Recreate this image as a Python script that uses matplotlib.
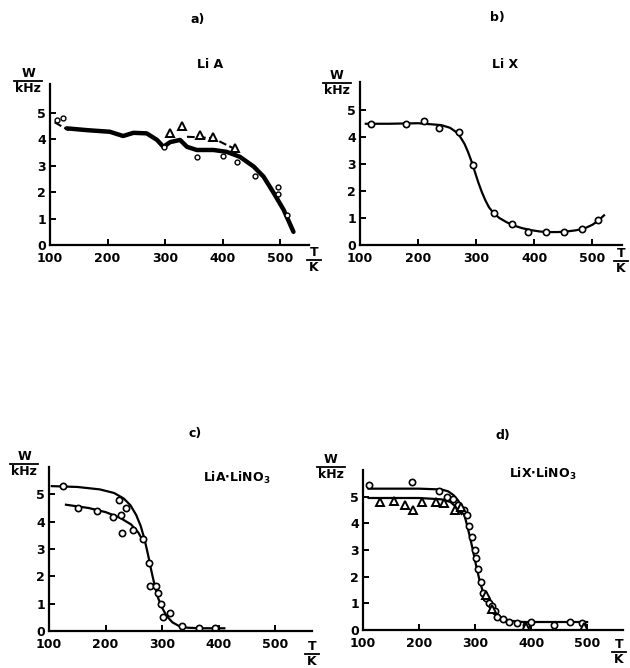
# W(T) of Li in zeolites A and X, four panels
import numpy as np
import matplotlib.pyplot as plt

plt.rcParams['font.family'] = ['DejaVu Sans']
plt.rcParams['font.weight'] = 'bold'

# a) Li A
a_curve_T = [129, 165, 204, 227, 245, 268, 286, 297, 309, 326, 338, 355, 384, 407, 430, 454, 471, 489, 506, 523]
a_curve_W = [4.42, 4.35, 4.29, 4.13, 4.25, 4.23, 3.98, 3.72, 3.9, 3.98, 3.72, 3.6, 3.6, 3.53, 3.34, 2.97, 2.59, 1.96, 1.33, 0.5]
a_start_T = [108, 120, 133]
a_start_W = [4.65, 4.5, 4.35]
a_circ_T = [112, 122, 298, 355, 401, 425, 456, 497, 497, 512]
a_circ_W = [4.75, 4.8, 3.7, 3.32, 3.37, 3.15, 2.6, 2.2, 1.95, 1.14]
a_tri_T = [309, 329, 361, 384, 422]
a_tri_W = [4.23, 4.5, 4.17, 4.1, 3.66]
a_tri_line_T = [338, 361, 384, 407, 425]
a_tri_line_W = [4.1, 4.08, 4.04, 3.79, 3.6]

# b) Li X
b_T = [119, 180, 211, 236, 270, 295, 331, 361, 390, 421, 451, 482, 509]
b_W = [4.5, 4.5, 4.6, 4.35, 4.2, 2.96, 1.18, 0.78, 0.5, 0.48, 0.5, 0.58, 0.93]
b_curve_T = [110, 150, 200, 240, 255, 265, 273, 280, 286, 292, 298, 304, 310, 316, 322, 330,
             340, 352, 365, 380, 395, 410, 425, 440, 455, 470, 485, 500, 510, 520]
b_curve_W = [4.5, 4.5, 4.52, 4.45, 4.35, 4.2, 4.0, 3.75, 3.45, 3.1, 2.7, 2.3, 1.95, 1.65, 1.4, 1.18,
             1.0, 0.85, 0.72, 0.62, 0.55, 0.5, 0.48, 0.48, 0.5, 0.54, 0.6, 0.75, 0.9, 1.1]

# c) LiA.LiNO3
c_T = [124, 224, 237, 266, 276, 278, 290, 292, 298, 301, 314, 335, 365, 393]
c_W = [5.3, 4.8, 4.5, 3.35, 2.5, 1.65, 1.65, 1.4, 0.97, 0.5, 0.65, 0.2, 0.12, 0.1]
c2_T = [152, 184, 214, 227, 229, 249]
c2_W = [4.5, 4.4, 4.17, 4.23, 3.6, 3.7]
c_up_T = [105, 150, 190, 215, 232, 244, 254, 262, 269, 275, 281, 287, 293, 300, 308, 318, 330, 345, 370, 410]
c_up_W = [5.3, 5.27, 5.18, 5.05, 4.85, 4.6, 4.25, 3.85, 3.35, 2.8, 2.2, 1.65, 1.2, 0.85, 0.55, 0.32, 0.18, 0.12, 0.1, 0.1]
c_lo_T = [130, 170, 200, 225, 245, 258, 266]
c_lo_W = [4.62, 4.5, 4.35, 4.15, 3.9, 3.6, 3.3]

# d) LiX.LiNO3
d_T = [111, 187, 235, 250, 260, 270, 280, 285, 290, 295, 300, 302, 305, 310, 315, 320, 325, 330, 335, 340,
       350, 360, 375, 390, 400, 440, 470, 490]
d_W = [5.45, 5.55, 5.2, 5.0, 4.9, 4.7, 4.5, 4.3, 3.9, 3.5, 3.0, 2.7, 2.3, 1.8, 1.4, 1.2, 1.0, 0.9, 0.7, 0.5,
       0.4, 0.3, 0.25, 0.2, 0.3, 0.2, 0.3, 0.25]
d2_T = [130, 155, 175, 190, 205, 230, 245, 265, 275, 320, 330, 390, 495]
d2_W = [4.8, 4.85, 4.7, 4.5, 4.8, 4.8, 4.75, 4.5, 4.6, 1.3, 0.8, 0.1, 0.1]
d_up_T = [110, 200, 240, 252, 262, 270, 277, 283, 289, 295, 301, 307, 313, 320, 328, 338, 350, 365, 385, 420, 500]
d_up_W = [5.3, 5.3, 5.27, 5.2, 5.05, 4.85, 4.55, 4.15, 3.65, 3.1, 2.5, 1.95, 1.5, 1.1, 0.8, 0.55, 0.42, 0.34, 0.3, 0.3, 0.3]
d_lo_T = [110, 200, 240, 256, 267, 276]
d_lo_W = [4.95, 4.95, 4.9, 4.8, 4.6, 4.35]

xticks = [100, 200, 300, 400, 500]
yticks = [0, 1, 2, 3, 4, 5]

fig = plt.figure(figsize=(6.3, 6.68), dpi=100)


def px_ax(x0, y0, x1, y1):
    # axes from pixel box (left, bottom-of-axis y, right, top y)
    return fig.add_axes([x0 / 630, 1 - y0 / 668, (x1 - x0) / 630, (y0 - y1) / 668])


def style(ax, xmax, ymax):
    ax.set_xlim(100, xmax)
    ax.set_ylim(0, ymax)
    ax.spines['top'].set_visible(False)
    ax.spines['right'].set_visible(False)
    ax.spines['left'].set_linewidth(1.6)
    ax.spines['bottom'].set_linewidth(1.6)
    ax.set_xticks(xticks)
    ax.set_yticks(yticks)
    ax.tick_params(direction='in', length=4, width=1.4, labelsize=9)
    ax.tick_params(axis='x', pad=5)
    ax.tick_params(axis='y', pad=3)
    for lab in ax.get_xticklabels() + ax.get_yticklabels():
        lab.set_fontweight('bold')


def ftext(x, y, s, **kw):
    fig.text(x / 630, 1 - y / 668, s, fontsize=9, fontweight='bold', **kw)


def frac(x, y, top, bot, w=14):
    ftext(x, y, top, ha='center', va='bottom')
    ftext(x, y + 2, bot, ha='center', va='top')
    fig.add_artist(plt.Line2D([(x - w) / 630, (x + w) / 630], [1 - (y + 1) / 668] * 2,
                              color='black', lw=1.3))


circ = dict(marker='o', ms=4.5, mfc='white', mec='black', mew=1.2, ls='none')
tri = dict(marker='^', ms=6, mfc='white', mec='black', mew=1.4, ls='none')

# a)
ax = px_ax(50, 245, 309, 84)
style(ax, 550, 6.1)
ax.plot(a_curve_T, a_curve_W, color='black', lw=3.2, solid_capstyle='round', solid_joinstyle='round')
ax.plot(a_start_T, a_start_W, color='black', lw=1.5, ls='--')
ax.plot(a_tri_line_T, a_tri_line_W, color='black', lw=1.5, ls='--')
ax.plot(a_circ_T, a_circ_W, marker='o', ms=3.5, mfc='white', mec='black', mew=1.0, ls='none')
ax.plot(a_tri_T, a_tri_W, **tri)

# b)
ax = px_ax(360, 245, 622, 82)
style(ax, 551, 6.05)
ax.plot(b_curve_T, b_curve_W, color='black', lw=1.6)
ax.plot(b_T, b_W, **circ)

# c)
ax = px_ax(49, 631, 312, 467)
style(ax, 565, 6.0)
ax.plot(c_up_T, c_up_W, color='black', lw=1.6)
ax.plot(c_lo_T, c_lo_W, color='black', lw=1.6)
ax.plot(c_T, c_W, **circ)
ax.plot(c2_T, c2_W, **circ)

# d)
ax = px_ax(363, 630, 623, 470)
style(ax, 564, 6.0)
ax.plot(d_up_T, d_up_W, color='black', lw=1.6)
ax.plot(d_lo_T, d_lo_W, color='black', lw=1.6)
ax.plot(d_T, d_W, **circ)
ax.plot(d2_T, d2_W, **tri)

# sample names
ftext(210, 65, 'Li A', ha='center', va='center')
ftext(505, 65, 'Li X', ha='center', va='center')
ftext(237, 478, r'LiA$\cdot$LiNO$_3$', ha='center', va='center')
ftext(543, 474, r'LiX$\cdot$LiNO$_3$', ha='center', va='center')

# panel letters
for x, y, s in [(198, 20, 'a)'), (497, 18, 'b)'), (195, 433, 'c)'), (503, 435, 'd)')]:
    ftext(x, y, s, ha='center', va='center')

# axis quantity labels
frac(28, 80, 'W', 'kHz')
frac(337, 82, 'W', 'kHz')
frac(24, 463, 'W', 'kHz')
frac(331, 466, 'W', 'kHz')
frac(314, 259, 'T', 'K', w=7)
frac(621, 260, 'T', 'K', w=7)
frac(312, 653, 'T', 'K', w=7)
frac(619, 651, 'T', 'K', w=7)

fig.savefig('out.png', dpi=100)
